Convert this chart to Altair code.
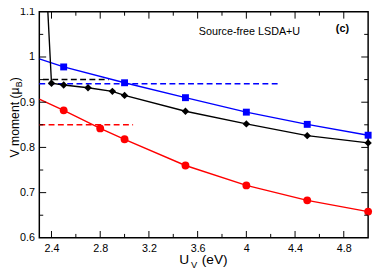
import altair as alt
import pandas as pd

# ---- data ----
u_blue = [2.5, 3.0, 3.5, 4.0, 4.5, 5.0]
m_blue = [0.978, 0.943, 0.910, 0.878, 0.851, 0.827]
u_black = [2.4, 2.5, 2.7, 2.9, 3.0, 3.5, 4.0, 4.5, 5.0]
m_black = [0.942, 0.938, 0.932, 0.924, 0.915, 0.880, 0.852, 0.826, 0.810]
u_red = [2.5, 2.8, 3.0, 3.5, 4.0, 4.5, 5.0]
m_red = [0.882, 0.842, 0.818, 0.760, 0.716, 0.683, 0.658]
# line continuation to the left edge (markers off-frame / not shown)
u_edge = [2.3, 2.3, 2.3]
m_edge = [0.996, 1.47, 0.907]
series = ["blue", "black", "red"]

dash_series = ["black", "blue", "red"]
dash_y = [0.950, 0.941, 0.850]
dash_x1 = [2.33, 2.30, 2.30]
dash_x2 = [2.87, 4.27, 3.07]

x_major = [2.4, 2.8, 3.2, 3.6, 4.0, 4.4, 4.8]
x_minor = [2.6, 3.0, 3.4, 3.8, 4.2, 4.6]
y_major = [0.6, 0.7, 0.8, 0.9, 1.0, 1.1]
y_minor = [0.65, 0.75, 0.85, 0.95, 1.05]

W, H = 336, 231

pts = pd.DataFrame(
    [{"s": "blue", "u": a, "m": b} for a, b in zip(u_blue, m_blue)]
    + [{"s": "black", "u": a, "m": b} for a, b in zip(u_black, m_black)]
    + [{"s": "red", "u": a, "m": b} for a, b in zip(u_red, m_red)]
)
lines = pd.concat(
    [pts, pd.DataFrame({"s": series, "u": u_edge, "m": m_edge})], ignore_index=True
)
dashes = pd.DataFrame({"s": dash_series, "y": dash_y, "x1": dash_x1, "x2": dash_x2})

xs = alt.Scale(domain=[2.3, 5.0], nice=False, zero=False)
ys = alt.Scale(domain=[0.6, 1.1], nice=False, zero=False)
cs = alt.Scale(domain=["blue", "black", "red"], range=["#0000ff", "#000000", "#ff0000"])
shp = alt.Scale(domain=["blue", "black", "red"], range=["square", "diamond", "circle"])
szs = alt.Scale(domain=["blue", "black", "red"], range=[50, 64, 64])

lbl = 'datum.value == 1 ? "1" : (datum.value == 4 ? "4" : format(datum.value, ".1f"))'

xaxis = alt.Axis(values=x_major, labelExpr=lbl, ticks=False, domain=False, grid=False,
                 labelPadding=5, labelFontSize=11, labelColor="black",
                 labelFont="Liberation Sans", title=None)
yaxis = alt.Axis(values=y_major, labelExpr=lbl, ticks=False, domain=False, grid=False,
                 labelPadding=5, labelFontSize=11, labelColor="black",
                 labelFont="Liberation Sans", title=None)

dash_layer = alt.Chart(dashes).mark_rule(strokeWidth=1.5, strokeDash=[6, 3.5]).encode(
    x=alt.X("x1:Q", scale=xs, axis=xaxis),
    x2="x2:Q",
    y=alt.Y("y:Q", scale=ys, axis=yaxis),
    color=alt.Color("s:N", scale=cs, legend=None),
)

line_layer = alt.Chart(lines).mark_line(strokeWidth=1.4, clip=True).encode(
    x=alt.X("u:Q", scale=xs, axis=xaxis),
    y=alt.Y("m:Q", scale=ys, axis=yaxis),
    color=alt.Color("s:N", scale=cs, legend=None),
    detail="s:N",
    order="u:Q",
)

pt_layer = alt.Chart(pts).mark_point(filled=True, opacity=1, clip=False).encode(
    x=alt.X("u:Q", scale=xs, axis=xaxis),
    y=alt.Y("m:Q", scale=ys, axis=yaxis),
    color=alt.Color("s:N", scale=cs, legend=None),
    shape=alt.Shape("s:N", scale=shp, legend=None),
    size=alt.Size("s:N", scale=szs, legend=None),
)

xmaj = pd.DataFrame({"v": x_major})
xmin = pd.DataFrame({"v": x_minor})
ymaj = pd.DataFrame({"v": y_major[1:-1]})
ymin = pd.DataFrame({"v": y_minor})

def xticks(df, ln):
    b = alt.Chart(df).mark_rule(color="black", strokeWidth=1).encode(
        x=alt.X("v:Q", scale=xs, axis=xaxis), y=alt.value(H), y2=alt.value(H - ln))
    t = alt.Chart(df).mark_rule(color="black", strokeWidth=1).encode(
        x=alt.X("v:Q", scale=xs, axis=xaxis), y=alt.value(0), y2=alt.value(ln))
    return [b, t]

def yticks(df, ln):
    l = alt.Chart(df).mark_rule(color="black", strokeWidth=1).encode(
        y=alt.Y("v:Q", scale=ys, axis=yaxis), x=alt.value(0), x2=alt.value(ln))
    r = alt.Chart(df).mark_rule(color="black", strokeWidth=1).encode(
        y=alt.Y("v:Q", scale=ys, axis=yaxis), x=alt.value(W), x2=alt.value(W - ln))
    return [l, r]

tick_layers = xticks(xmaj, 7) + xticks(xmin, 4) + yticks(ymaj, 7) + yticks(ymin, 4)

one = pd.DataFrame({"a": [0]})

def txt(s, x, y, size, angle=0, weight="normal"):
    return alt.Chart(one).mark_text(
        text=s, fontSize=size, align="left", baseline="alphabetic", angle=angle,
        font="Liberation Sans", fontWeight=weight, color="black",
    ).encode(x=alt.value(x), y=alt.value(y))

# text positions are in plot-area pixels (plot area starts at page x=40, y=9)
texts = [
    txt("Source-free LSDA+U", 163, 23.5, 11),
    txt("(c)", 303, 21, 11, weight="bold"),
    txt("U", 143, 258, 14),
    txt("V", 155, 262, 9.5),
    txt("(eV)", 166, 258, 14),
    txt("V moment (\u03bc", -21, 149, 12.5, angle=270),
    txt("B", -17.5, 77, 9, angle=270),
    txt(")", -21, 71, 12.5, angle=270),
]

chart = alt.layer(dash_layer, line_layer, pt_layer, *tick_layers, *texts).properties(
    width=W, height=H,
    autosize=alt.AutoSizeParams(type="none"),
    padding={"left": 32, "top": 1, "right": 6, "bottom": 30},
    background="white",
).configure_view(stroke="black", strokeWidth=1.5)

chart.save("out.html", embed_options={"renderer": "svg", "actions": False})
